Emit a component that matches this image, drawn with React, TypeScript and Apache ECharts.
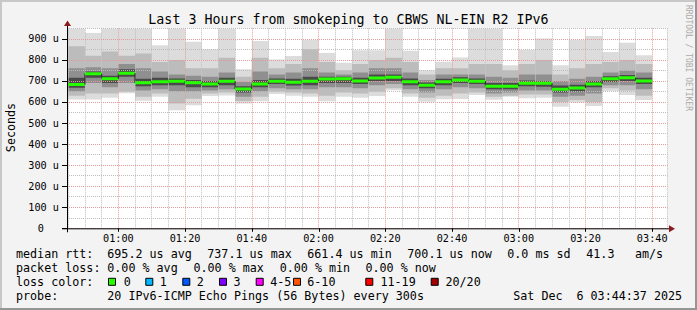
import React, { useEffect, useRef } from 'react';
import * as echarts from 'echarts';

// ---- data (microseconds) ----
const barStarts = ['00:45','00:50','00:55','01:00','01:05','01:10','01:15','01:20','01:25','01:30','01:35','01:40','01:45','01:50','01:55','02:00','02:05','02:10','02:15','02:20','02:25','02:30','02:35','02:40','02:45','02:50','02:55','03:00','03:05','03:10','03:15','03:20','03:25','03:30','03:35'];
const maxRtt  = [949,928,949,949,949,870,949,886,850,949,755,890,802,818,894,833,786,846,846,949,843,751,791,811,949,949,775,848,902,775,894,913,838,881,822];
const upper2  = [865,820,840,820,830,790,800,760,760,810,720,810,760,780,851,790,750,780,800,810,790,730,760,760,780,780,750,780,800,730,760,780,790,800,780];
const upper1  = [760,765,760,780,760,745,730,725,720,740,695,745,730,740,760,740,730,740,760,760,740,705,730,730,730,720,715,730,730,700,710,720,740,750,740];
const upper0  = [715,745,725,755,710,715,712,705,700,715,675,705,712,710,720,720,720,715,730,730,712,692,710,718,712,690,690,702,700,678,682,700,722,728,715];
const medianRtt = [683,734,710,737,691,696,699,691,685,699,662,686,699,694,699,709,710,700,714,717,696,680,696,705,699,675,675,689,689,661,667,686,710,715,700];
const lower0  = [668,715,690,720,675,680,680,670,670,680,645,670,685,678,680,690,690,685,700,700,680,665,680,690,685,660,660,675,672,645,650,670,695,700,685];
const lower1  = [650,690,670,690,655,660,650,650,655,660,625,650,665,660,660,670,670,665,680,685,660,645,660,670,665,640,645,655,655,625,630,640,680,680,660];
const lower2  = [630,640,640,650,625,640,593,615,640,645,605,625,650,645,640,630,645,640,650,665,640,620,630,640,645,625,630,635,635,600,610,600,665,655,630];
const minRtt  = [612,612,620,641,606,625,561,585,628,631,593,603,638,630,625,603,625,620,629,656,625,601,613,614,633,611,625,618,620,577,598,581,652,633,609];

const yTicks = [0, 100, 200, 300, 400, 500, 600, 700, 800, 900];
const xTickLabels = ['01:00','01:20','01:40','02:00','02:20','02:40','03:00','03:20','03:40'];
const endTime = '03:44:37';
const spanMinutes = 180;
const lossLabels = ['0','1','2','3','4-5','6-10','11-19','20/20'];
const lossColors = ['#26ff00','#00b8ff','#0059ff','#7e00ff','#ff00fe','#ff5500','#ff0000','#a10000'];

const FONT = "'DejaVu Sans Mono', monospace";

function toMin(s: string): number {
  const p = s.split(':').map(Number);
  return p[0] * 60 + p[1] + (p[2] || 0) / 60;
}

export default function App() {
  const ref = useRef<HTMLDivElement>(null);
  useEffect(() => {
    if (!ref.current) return;
    const chart = echarts.init(ref.current, null, { renderer: 'svg' });
    const endMin = toMin(endTime);
    const startMin = endMin - spanMinutes;
    const data = barStarts.map((s, i) => {
      const t0 = toMin(s);
      return [t0, t0 + 5, maxRtt[i], upper2[i], upper1[i], upper0[i], medianRtt[i], lower0[i], lower1[i], lower2[i], minRtt[i], i > 0 ? medianRtt[i - 1] : medianRtt[i]];
    });
    const layers: [number, number, string][] = [
      [2, 10, '#dcdcdc'],
      [3, 9, '#bcbcbc'],
      [4, 8, '#8f8f8f'],
      [5, 7, '#4a4a4a'],
    ];
    const GL = { left: 67, top: 28.3, width: 600.6, height: 200 };
    const axisY = GL.top + GL.height;
    const RED = '#e59a9a';
    const GRAY = '#bdbdbd';

    const txt = (text: string, x: number, y: number, extra: any = {}) => ({
      type: 'text', x, y, silent: true,
      style: { text, fill: '#000', font: `11.7px ${FONT}`, textAlign: 'left', textVerticalAlign: 'middle', align: 'left', verticalAlign: 'middle', ...extra },
    });

    const legendY = [254.3, 268, 281.8, 295.6];
    const graphics: any[] = [
      // frame
      { type: 'rect', shape: { x: 0, y: 0, width: 697, height: 2 }, style: { fill: '#c8c8c8' }, silent: true },
      { type: 'rect', shape: { x: 0, y: 0, width: 2, height: 310 }, style: { fill: '#c8c8c8' }, silent: true },
      { type: 'rect', shape: { x: 695, y: 0, width: 2, height: 310 }, style: { fill: '#969696' }, silent: true },
      { type: 'rect', shape: { x: 0, y: 308, width: 697, height: 2 }, style: { fill: '#969696' }, silent: true },
      // axes
      { type: 'line', shape: { x1: 62, y1: axisY + 0.5, x2: 669, y2: axisY + 0.5 }, style: { stroke: '#000', lineWidth: 1 }, z: 100 },
      { type: 'line', shape: { x1: GL.left + 0.5, y1: axisY + 4, x2: GL.left + 0.5, y2: 25 }, style: { stroke: '#000', lineWidth: 1 }, z: 100 },
      { type: 'polygon', shape: { points: [[669, axisY - 3], [675, axisY + 0.5], [669, axisY + 4]] }, style: { fill: '#8b1a1a' }, z: 100 },
      { type: 'polygon', shape: { points: [[64, 26], [67.5, 20.5], [71, 26]] }, style: { fill: '#8b1a1a' }, z: 100 },
      // title
      txt('Last 3 Hours from smokeping to CBWS NL-EIN R2 IPv6', 348.5, 19.5, { font: `13.3px ${FONT}`, textAlign: 'center', align: 'center' }),
      // y name
      { type: 'text', x: 11, y: 127.5, rotation: Math.PI / 2, silent: true,
        style: { text: 'Seconds', fill: '#000', font: `11.7px ${FONT}`, textAlign: 'center', align: 'center', textVerticalAlign: 'middle', verticalAlign: 'middle' } },
      // watermark
      { type: 'text', x: 688.5, y: 5, rotation: -Math.PI / 2, silent: true,
        style: { text: 'RRDTOOL / TOBI OETIKER', fill: '#aaaaaa', font: `8px ${FONT}`, textAlign: 'left', align: 'left', textVerticalAlign: 'middle', verticalAlign: 'middle' } },
      // legend line 1
      txt('median rtt:', 16, legendY[0]),
      txt('695.2 us avg', 107.3, legendY[0]),
      txt('737.1 us max', 207.3, legendY[0]),
      txt('661.4 us min', 307.3, legendY[0]),
      txt('700.1 us now', 407.3, legendY[0]),
      txt('0.0 ms sd', 507.3, legendY[0]),
      txt('41.3', 586.3, legendY[0]),
      txt('am/s', 635, legendY[0]),
      // line 2
      txt('packet loss:', 16, legendY[1]),
      txt('0.00 % avg', 107.3, legendY[1]),
      txt('0.00 % max', 193.5, legendY[1]),
      txt('0.00 % min', 279.7, legendY[1]),
      txt('0.00 % now', 365.5, legendY[1]),
      // line 3
      txt('loss color:', 16, legendY[2]),
      // line 4
      txt('probe:', 16, legendY[3]),
      txt('20 IPv6-ICMP Echo Pings (56 Bytes) every 300s', 107.3, legendY[3]),
      txt('Sat Dec', 513.3, legendY[3]),
      txt('6 03:44:37 2025', 576.5, legendY[3]),
    ];
    const boxX = [108.5, 145.8, 182.8, 219.5, 256.2, 293.5, 365.8, 431.2];
    const lblX = [123.8, 159.8, 196.8, 233.5, 270.2, 307.3, 380.5, 445.5];
    lossLabels.forEach((l, i) => {
      graphics.push({ type: 'rect', shape: { x: boxX[i], y: legendY[2] - 3.5, width: 7, height: 7 }, style: { fill: lossColors[i], stroke: '#000', lineWidth: 1 }, silent: true });
      graphics.push(txt(l, lblX[i], legendY[2]));
    });

    const option: any = {
      animation: false,
      backgroundColor: '#f3f3f3',
      grid: { ...GL, show: true, backgroundColor: '#ffffff', borderWidth: 0 },
      xAxis: {
        type: 'value', min: startMin, max: endMin, minInterval: 5, maxInterval: 5, z: 10,
        axisLine: { show: false }, axisTick: { show: false },
        splitLine: { show: true, lineStyle: { color: [RED, GRAY, GRAY, GRAY], width: 1, type: [1, 1] } },
        axisLabel: {
          margin: 5, color: '#000', fontFamily: FONT, fontSize: 10.2, showMinLabel: true, showMaxLabel: true, hideOverlap: false,
          formatter: (v: number) => {
            if (Math.abs(v % 20) > 1e-6) return '';
            const h = Math.floor(v / 60), m = Math.round(v % 60);
            const s = String(h).padStart(2, '0') + ':' + String(m).padStart(2, '0');
            return xTickLabels.includes(s) ? s : '';
          },
        },
      },
      yAxis: {
        type: 'value', min: 0, max: 950, interval: 50, z: 10,
        axisLine: { show: false }, axisTick: { show: false },
        splitLine: { show: true, lineStyle: { color: [RED, GRAY], width: 1, type: [1, 1] } },
        axisLabel: {
          margin: 8, color: '#000', fontFamily: FONT, fontSize: 10.2, showMinLabel: true, showMaxLabel: true,
          formatter: (v: number) => {
            if (!yTicks.includes(v)) return '';
            return v === 0 ? '{z|0}' : `${v} u`;
          },
          rich: { z: { padding: [0, 15, 0, 0], fontFamily: FONT, fontSize: 10.2, color: '#000' } },
        },
      },
      series: [
        {
          type: 'custom',
          clip: true,
          z: 2,
          data,
          renderItem: (params: any, api: any) => {
            const t0 = api.value(0), t1 = api.value(1);
            const children: any[] = layers.map(([hi, lo, c]) => {
              const p1 = api.coord([t0, api.value(hi)]);
              const p2 = api.coord([t1, api.value(lo)]);
              return { type: 'rect', shape: { x: p1[0], y: p1[1], width: p2[0] - p1[0], height: p2[1] - p1[1] }, style: { fill: c } };
            });
            return { type: 'group', children };
          },
        },
        {
          type: 'custom',
          clip: true,
          z: 20,
          data,
          renderItem: (params: any, api: any) => {
            const t0 = api.value(0), t1 = api.value(1);
            const m1 = api.coord([t0, api.value(6)]);
            const m2 = api.coord([t1, api.value(6)]);
            const pv = api.coord([t0, api.value(11)]);
            return {
              type: 'group',
              children: [
                { type: 'line', shape: { x1: m1[0], y1: pv[1], x2: m1[0], y2: m1[1] }, style: { stroke: '#202020', lineWidth: 1 } },
                { type: 'rect', shape: { x: m1[0], y: m1[1] - 1.5, width: m2[0] - m1[0], height: 3 }, style: { fill: '#26ff00' } },
              ],
            };
          },
        },
      ],
      graphic: graphics,
    };
    chart.setOption(option);

    // major tick marks at labelled values, placed through the chart's own scales
    const tickMarks: any[] = [];
    yTicks.forEach((v) => {
      const p = chart.convertToPixel({ gridIndex: 0 }, [startMin, v]);
      tickMarks.push({ type: 'line', shape: { x1: GL.left - 5, y1: Math.round(p[1]) + 0.5, x2: GL.left, y2: Math.round(p[1]) + 0.5 }, style: { stroke: '#000', lineWidth: 1 }, z: 100, silent: true });
    });
    xTickLabels.forEach((s) => {
      const p = chart.convertToPixel({ gridIndex: 0 }, [toMin(s), 0]);
      tickMarks.push({ type: 'line', shape: { x1: Math.round(p[0]) + 0.5, y1: axisY, x2: Math.round(p[0]) + 0.5, y2: axisY + 3.5 }, style: { stroke: '#000', lineWidth: 1 }, z: 100, silent: true });
    });
    chart.setOption({ graphic: graphics.concat(tickMarks) }, { replaceMerge: ['graphic'] });

    return () => chart.dispose();
  }, []);
  return <div ref={ref} style={{ position: 'absolute', left: 0, top: 0, width: 697, height: 310 }} />;
}
